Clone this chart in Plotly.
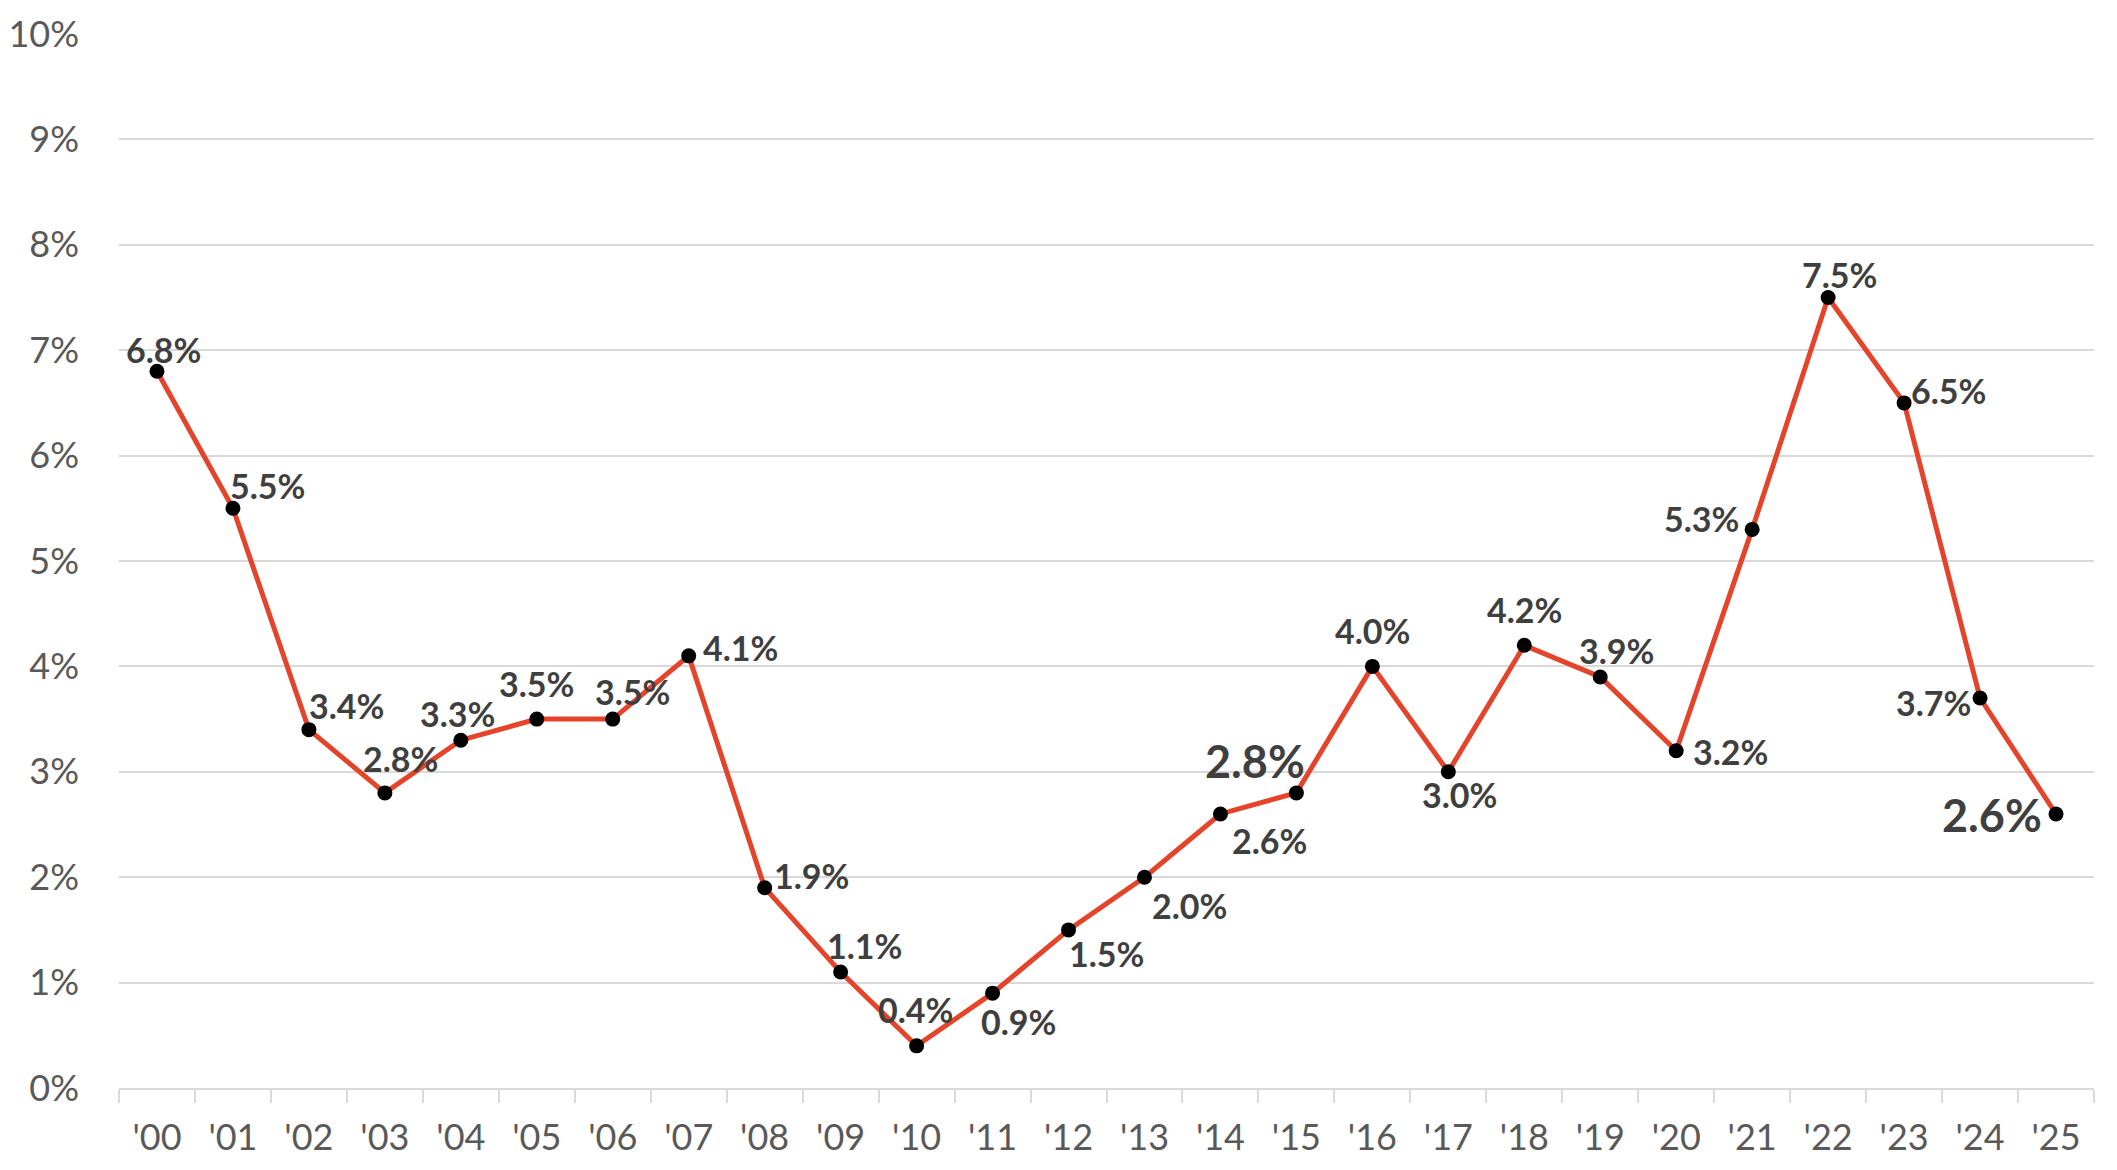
import plotly.graph_objects as go

years = ["'00", "'01", "'02", "'03", "'04", "'05", "'06", "'07", "'08", "'09",
         "'10", "'11", "'12", "'13", "'14", "'15", "'16", "'17", "'18", "'19",
         "'20", "'21", "'22", "'23", "'24", "'25"]
values = [6.8, 5.5, 3.4, 2.8, 3.3, 3.5, 3.5, 4.1, 1.9, 1.1,
          0.4, 0.9, 1.5, 2.0, 2.6, 2.8, 4.0, 3.0, 4.2, 3.9,
          3.2, 5.3, 7.5, 6.5, 3.7, 2.6]
# label offsets (pixels) relative to each point
label_dx = [7, 35, 38, 16, -3, 0, 20, 52, 47, 24,
            -1, 26, 38, 45, 49, -41, 0, 11, 0, 16,
            54, -51, 11, 44, -47, -64]
label_dy = [22, 23, 24, 34, 27, 36, 28, 8, 12, 27,
            36, -28, -24, -28, -27, 32, 36, -23, 36, 26,
            -1, 11, 23, 12, -4, -1]
big_labels = {"'15", "'25"}
y_ticks = list(range(0, 11))
y_tick_text = [f"{v}%" for v in y_ticks]

fig = go.Figure()
fig.add_trace(go.Scatter(
    x=years, y=values, mode="lines+markers",
    line=dict(color="#E5442A", width=5),
    marker=dict(color="black", size=15),
    hoverinfo="skip", showlegend=False,
))

for yr, v, dx, dy in zip(years, values, label_dx, label_dy):
    big = yr in big_labels
    fig.add_annotation(
        x=yr, y=v, text=f"<b>{v:.1f}%</b>", showarrow=False,
        xshift=dx, yshift=dy,
        font=dict(family="Lato", size=45 if big else 34, color="#3F3F3F"),
    )

fig.update_layout(
    width=2117, height=1170, autosize=False,
    margin=dict(l=111, r=31, t=26, b=90),
    plot_bgcolor="white", paper_bgcolor="white",
    font=dict(family="Lato", color="#595959"),
)
fig.update_yaxes(
    range=[0, 10], tickvals=y_ticks, ticktext=y_tick_text,
    showgrid=True, gridcolor="#D9D9D9", gridwidth=1.5,
    zeroline=False, showline=False, automargin=False,
    tickfont=dict(family="Lato", size=36, color="#595959"),
    ticks="", ticklabelstandoff=39,
)
fig.update_xaxes(
    type="category", tickson="boundaries", ticks="outside", ticklen=13,
    tickcolor="#D9D9D9", tickwidth=1.5,
    showline=True, linecolor="#D9D9D9", linewidth=1.5,
    showgrid=False, range=[-0.5, 25.5], automargin=False,
    tickfont=dict(family="Lato", size=36, color="#595959"),
    ticklabelstandoff=17,
)

fig.write_html("out.html")
